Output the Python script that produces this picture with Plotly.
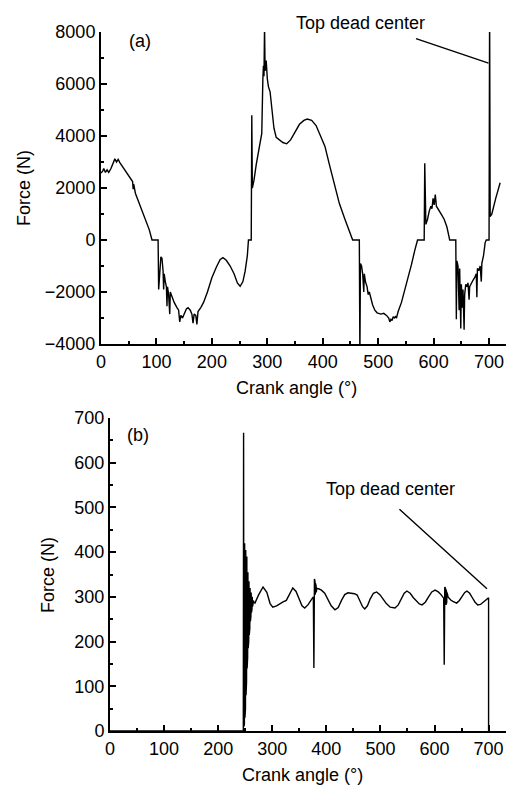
import plotly.graph_objects as go

# ---------------- (a) data ----------------
angle_a = [0, 3, 5, 8, 11, 14, 18, 22, 25, 28, 31, 34, 40, 47, 53, 57, 58, 59, 62, 68, 75, 82, 87, 92,
           103, 104, 106, 108, 110, 112, 113, 114, 116, 118, 119, 120, 122, 124, 125, 128, 132, 137, 140,
           142, 144, 147, 150, 154, 157, 161, 164, 166, 168, 171, 173, 175, 180, 185, 192, 200, 208, 215,
           220, 226, 233, 240, 246, 251, 256, 260, 264, 266, 271, 272, 273, 276, 280, 285, 290, 292, 293,
           294, 295, 296, 298, 300, 302, 305, 309, 312, 316, 322, 328, 335, 342, 350, 358, 366, 372, 380,
           388, 396, 404, 412, 420, 430, 440, 448, 454, 466, 467, 468, 470, 472, 474, 475, 477, 480, 482,
           484, 487, 490, 494, 498, 505, 510, 515, 519, 521, 523, 525, 527, 529, 531, 533, 536, 542, 548,
           554, 560, 566, 571, 583, 584, 586, 589, 592, 595, 597, 599, 601, 603, 605, 608, 612, 615, 619,
           624, 628, 629, 640, 641, 642, 644, 646, 647, 649, 650, 652, 653, 655, 656, 658, 660, 662, 664,
           665, 668, 671, 674, 677, 678, 679, 682, 684, 686, 687, 690, 693, 695, 700, 701, 702, 705, 708,
           712, 716, 720]
force_a = [2580, 2650, 2750, 2600, 2700, 2600, 2750, 3000, 3120, 3000, 3100, 2980, 2800, 2600, 2400, 2250,
           1950, 2150, 1800, 1450, 1100, 700, 400, 0,
           0, -1900, -1000, -650, -700, -1200, -1900, -1300, -1600, -1800, -2550, -1800, -2100, -2850, -2000,
           -2200, -2400, -2600, -2700, -3150, -2900, -3000, -2850, -2650, -2600, -2700, -2850, -3200, -2850,
           -2900, -3250, -2750, -2600, -2400, -2000, -1450, -1050, -750, -680, -780, -1000, -1300, -1650,
           -1780, -1600, -1200, -600, 0, 0, 4800, 2000, 2300, 2900, 3550, 4100, 6200, 6700, 6300, 8200, 6500,
           6900, 6200, 5900, 5700, 5000, 4300, 3950, 3850, 3750, 3700, 3850, 4150, 4450, 4600, 4650, 4600,
           4400, 4000, 3600, 2900, 2200, 1400, 800, 300, 0, 0, -4500, -900, -1000, -1300, -2000, -1300,
           -1600, -1800, -2100, -2000, -2300, -2500, -2700, -2800, -2850, -2820, -2900, -3000, -3150, -3050,
           -3100, -2950, -3000, -2950, -3000, -2750, -2400, -1950, -1500, -950, -400, 0, 0, 2950, 600, 800,
           1100, 1300, 1200, 1600, 1350, 1750, 1300, 1200, 1100, 950, 800, 500, 100, 0, 0, -3050, -800,
           -1000, -2700, -1100, -3400, -1700, -2600, -1900, -3450, -2100, -1700, -1800, -1650, -2300, -1800,
           -1650, -1550, -1450, -1300, -2200, -1100, -1150, -1000, -1600, -900, -600, -100, 0, 0, 9000, 900,
           1000, 1300, 1600, 1900, 2200]

# ---------------- (b) data ----------------
angle_b = [0, 246.5, 247, 247.5, 248, 248.5, 249, 249.5, 250, 250.5, 251, 251.5, 252, 252.5, 253, 253.5,
           254, 254.5, 255, 255.5, 256, 256.5, 257, 257.5, 258, 258.5, 259, 259.5, 260, 260.5, 261, 261.5,
           262, 262.5, 263, 263.5, 264, 264.5, 265, 266, 268, 275, 283, 290, 296, 301, 308, 315, 320, 326,
           332, 338, 344, 350, 355,
           360, 366, 373, 376, 377, 378, 378.5, 379, 379.5, 380, 380.5, 381, 381.5, 382, 383, 386, 391, 397,
           403, 409, 416, 422, 428, 434, 440, 447, 452, 457, 462, 467, 471, 476, 481, 487, 493, 499, 505,
           511, 518, 527, 533, 539, 544, 549, 555, 561, 567, 572, 577, 583, 589, 595, 601, 607, 612, 616,
           617, 618, 619, 619.5, 620, 620.5, 621, 621.5, 622, 622.5, 623, 623.5, 624, 625, 627, 630, 634,
           641, 646, 651, 656, 660, 665, 670, 675, 680, 685, 690, 695, 699, 700, 700]
force_b = [0, 0, 667, 10, 620, 15, 420, 30, 410, 50, 405, 80, 400, 110, 390, 140, 370, 165, 355, 185,
           345, 200, 335, 215, 330, 230, 320, 245, 315, 255, 310, 265, 305, 272, 300, 278, 296, 284, 292,
           288, 286, 305, 322,
           310, 285, 277, 280, 286, 289, 292, 305, 320, 312, 292, 280, 275, 282, 295, 300, 141, 340, 300,
           335, 305, 330, 308, 325, 310, 320, 318, 318, 315, 308, 295, 280, 271, 276, 292, 305, 309, 308,
           307, 304, 292, 278, 273, 280, 295, 308, 311, 305, 295, 285, 277, 275, 282, 296, 308, 313, 308,
           298, 289, 284, 282, 288, 300, 311, 315, 311, 305, 300, 297, 148, 322, 290, 320, 285, 318, 282,
           315, 285, 310, 288, 306, 300, 296, 293, 290, 286, 292, 302, 310, 313, 308, 298, 288, 282, 283,
           288, 294, 297, 297, 0]

tdc_label = "Top dead center"
xticks = [0, 100, 200, 300, 400, 500, 600, 700]
yticks_a = [-4000, -2000, 0, 2000, 4000, 6000, 8000]
yticks_b = [0, 100, 200, 300, 400, 500, 600, 700]

FONT = "Liberation Sans, Arial, sans-serif"
FS = 18
OFF = 8                     # default page body margin
W, H = 514 - OFF, 787 - OFF


def px(xp):
    return (xp - OFF) / W


def py(yp):
    return 1 - (yp - OFF) / H


fig = go.Figure()
fig.add_trace(go.Scatter(x=angle_a, y=force_a, mode="lines", line=dict(color="black", width=1.4),
                         xaxis="x", yaxis="y", showlegend=False))
fig.add_trace(go.Scatter(x=angle_b, y=force_b, mode="lines", line=dict(color="black", width=1.4),
                         xaxis="x2", yaxis="y2", showlegend=False))


def ax_common():
    return dict(showline=True, linecolor="black", linewidth=2, ticks="inside", ticklen=6, tickwidth=1.5,
                tickcolor="black", showgrid=False, zeroline=False, automargin=False,
                tickfont=dict(family=FONT, size=FS, color="black"))


def minor(d):
    return dict(dtick=d, ticklen=3, ticks="inside", tickcolor="black", tickwidth=1.5, showgrid=False)


fig.update_layout(
    template="none",
    width=W, height=H, margin=dict(l=0, r=0, t=0, b=0, pad=0),
    plot_bgcolor="white", paper_bgcolor="white",
    font=dict(family=FONT, size=FS, color="black"),
    xaxis=dict(**ax_common(), domain=[px(101), 1], range=[0, 745], tickvals=xticks, anchor="y",
               minor=minor(50)),
    yaxis=dict(**ax_common(), domain=[py(344), py(32)], range=[-4000, 8000], tickvals=yticks_a,
               anchor="x", minor=minor(1000)),
    xaxis2=dict(**ax_common(), domain=[px(110), 1], range=[0, 747], tickvals=xticks, anchor="y2",
                minor=minor(50)),
    yaxis2=dict(**ax_common(), domain=[py(731), py(418)], range=[0, 700], tickvals=yticks_b,
                anchor="x2", minor=minor(50)),
)

ann = []
# axis titles
ann.append(dict(text="Force (N)", x=px(24), y=py(188), xref="paper", yref="paper", textangle=-90,
                showarrow=False, xanchor="center", yanchor="middle"))
ann.append(dict(text="Force (N)", x=px(48), y=py(575), xref="paper", yref="paper", textangle=-90,
                showarrow=False, xanchor="center", yanchor="middle"))
ann.append(dict(text="Crank angle (°)", x=px(296), y=py(388), xref="paper", yref="paper",
                showarrow=False, xanchor="center", yanchor="middle"))
ann.append(dict(text="Crank angle (°)", x=px(302), y=py(775), xref="paper", yref="paper",
                showarrow=False, xanchor="center", yanchor="middle"))
# panel labels
ann.append(dict(text="(a)", x=px(140), y=py(41), xref="paper", yref="paper", showarrow=False,
                xanchor="center", yanchor="middle"))
ann.append(dict(text="(b)", x=px(138), y=py(435), xref="paper", yref="paper", showarrow=False,
                xanchor="center", yanchor="middle"))
# TDC labels
ann.append(dict(text=tdc_label, x=px(360), y=py(23), xref="paper", yref="paper", showarrow=False,
                xanchor="center", yanchor="middle"))
ann.append(dict(text=tdc_label, x=px(390), y=py(489), xref="paper", yref="paper", showarrow=False,
                xanchor="center", yanchor="middle"))
# pointer lines
ann.append(dict(text="", x=699, y=6800, xref="x", yref="y", showarrow=True, arrowhead=0, arrowwidth=1.4,
                arrowcolor="black", ax=-74, ay=-25, standoff=0, startstandoff=0))
ann.append(dict(text="", x=697, y=318, xref="x2", yref="y2", showarrow=True, arrowhead=0, arrowwidth=1.4,
                arrowcolor="black", ax=-89, ay=-81, standoff=0, startstandoff=0))
fig.update_layout(annotations=ann)

fig.write_html("out.html")
